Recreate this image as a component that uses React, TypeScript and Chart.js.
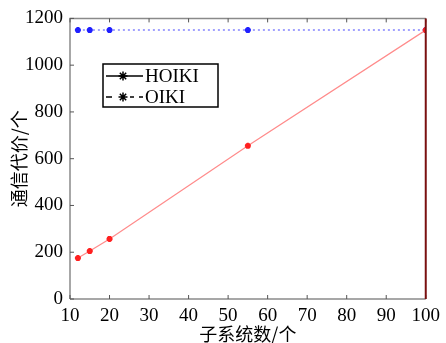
import React, { useEffect, useRef } from "react";
import { Chart, registerables } from "chart.js";

Chart.register(...registerables);

const xValues = [12, 15, 20, 55, 100];
const hoikiValues = [175, 205, 257, 655, 1150];
const oikiValues = [1150, 1150, 1150, 1150, 1150];
const xTicks = [10, 20, 30, 40, 50, 60, 70, 80, 90, 100];
const yTicks = [0, 200, 400, 600, 800, 1000, 1200];
const seriesNames = ["HOIKI", "OIKI"];
const xTitle = "子系统数/个";
const yTitle = "通信代价/个";

const SERIF = "'Liberation Serif', 'Times New Roman', serif";
const CJK = "'Noto Sans CJK SC', sans-serif";

const framePlugin = {
  id: "frame",
  afterDatasetsDraw(chart: any) {
    const { ctx, chartArea } = chart;
    const { left, right, top, bottom } = chartArea;
    const xs = chart.scales.x;
    const ys = chart.scales.y;
    ctx.save();
    ctx.strokeStyle = "#8a8a8a";
    ctx.lineWidth = 1.5;
    ctx.beginPath();
    ctx.moveTo(left, bottom);
    ctx.lineTo(left, top);
    ctx.lineTo(right, top);
    ctx.moveTo(left, bottom);
    ctx.lineTo(right, bottom);
    ctx.stroke();
    ctx.lineWidth = 1;
    ctx.strokeStyle = "#555";
    ctx.beginPath();
    for (const t of xTicks) {
      const px = xs.getPixelForValue(t);
      ctx.moveTo(px, bottom);
      ctx.lineTo(px, bottom - 4);
      ctx.moveTo(px, top);
      ctx.lineTo(px, top + 4);
    }
    for (const t of yTicks) {
      const py = ys.getPixelForValue(t);
      ctx.moveTo(left, py);
      ctx.lineTo(left + 4, py);
    }
    ctx.stroke();
    ctx.strokeStyle = "#7a1010";
    ctx.lineWidth = 2;
    ctx.beginPath();
    ctx.moveTo(right, top);
    ctx.lineTo(right, bottom);
    ctx.stroke();

    // legend box
    const bx = 103, by = 64, bw = 115, bh = 43;
    ctx.fillStyle = "#fff";
    ctx.fillRect(bx, by, bw, bh);
    ctx.strokeStyle = "#000";
    ctx.lineWidth = 1.5;
    ctx.strokeRect(bx, by, bw, bh);
    const rows = [by + 12, by + 33];
    const dashes = [[], [6, 5]];
    ctx.font = "19px " + SERIF;
    ctx.textBaseline = "middle";
    ctx.textAlign = "left";
    rows.forEach((ry, i) => {
      ctx.strokeStyle = "#000";
      ctx.lineWidth = 1.5;
      ctx.setLineDash(dashes[i]);
      ctx.beginPath();
      ctx.moveTo(bx + 3, ry);
      ctx.lineTo(bx + 40, ry);
      ctx.stroke();
      ctx.setLineDash([]);
      const cx = bx + 20;
      ctx.fillStyle = "#fff";
      if (i === 1) ctx.fillRect(cx - 7, ry - 2, 14, 4);
      ctx.beginPath();
      for (let k = 0; k < 4; k++) {
        const a = (k * Math.PI) / 4;
        ctx.moveTo(cx - 4.5 * Math.cos(a), ry - 4.5 * Math.sin(a));
        ctx.lineTo(cx + 4.5 * Math.cos(a), ry + 4.5 * Math.sin(a));
      }
      ctx.stroke();
      ctx.fillStyle = "#000";
      ctx.fillText(seriesNames[i], bx + 42, ry + 1);
    });
    ctx.restore();
  },
};

export default function App() {
  const ref = useRef<HTMLCanvasElement | null>(null);
  useEffect(() => {
    if (!ref.current) return;
    const chart = new Chart(ref.current, {
      type: "line",
      data: {
        datasets: [
          {
            label: seriesNames[0],
            data: xValues.map((x, i) => ({ x, y: hoikiValues[i] })),
            borderColor: "rgba(255,110,110,0.8)",
            borderWidth: 1.2,
            pointStyle: "star",
            pointRadius: 3,
            pointBorderWidth: 2,
            pointBorderColor: "#ff2020",
            pointBackgroundColor: "#ff2020",
          },
          {
            label: seriesNames[1],
            data: xValues.map((x, i) => ({ x, y: oikiValues[i] })),
            borderColor: "rgba(110,110,255,0.85)",
            borderWidth: 1.5,
            borderDash: [2, 3],
            pointStyle: "star",
            pointRadius: 3,
            pointBorderWidth: 2,
            pointBorderColor: "#2020ff",
            pointBackgroundColor: "#2020ff",
          },
        ],
      },
      options: {
        animation: false,
        responsive: false,
        layout: { padding: { top: 18, right: 17, left: 0, bottom: 0 } },
        plugins: { legend: { display: false }, tooltip: { enabled: false } },
        scales: {
          x: {
            type: "linear",
            min: 10,
            max: 100,
            afterBuildTicks: (s: any) => {
              s.ticks = xTicks.map((v) => ({ value: v }));
            },
            afterFit: (s: any) => {
              s.height = 44;
            },
            grid: { display: false, drawTicks: false },
            border: { display: false },
            ticks: {
              color: "#000",
              padding: 6,
              maxRotation: 0,
              autoSkip: false,
              callback: (v: any) => String(v),
              font: { family: SERIF, size: 19 },
            },
            title: {
              display: true,
              text: xTitle,
              color: "#000",
              padding: { top: 0, bottom: 0 },
              font: { family: CJK, size: 18, lineHeight: 1 },
            },
          },
          y: {
            type: "linear",
            min: 0,
            max: 1200,
            afterBuildTicks: (s: any) => {
              s.ticks = yTicks.map((v) => ({ value: v }));
            },
            afterFit: (s: any) => {
              s.width = 70;
            },
            grid: { display: false, drawTicks: false },
            border: { display: false },
            ticks: {
              color: "#000",
              padding: 7,
              autoSkip: false,
              callback: (v: any) => String(v),
              font: { family: SERIF, size: 19 },
            },
            title: {
              display: true,
              text: yTitle,
              color: "#000",
              padding: { top: 10, bottom: 0 },
              font: { family: CJK, size: 18, lineHeight: 1 },
            },
          },
        },
      },
      plugins: [framePlugin],
    });
    return () => chart.destroy();
  }, []);
  return (
    <div style={{ position: "fixed", left: 0, top: 0, width: 446, height: 343, background: "#fff" }}>
      <canvas ref={ref} width={446} height={343} style={{ width: 446, height: 343 }} />
    </div>
  );
}
